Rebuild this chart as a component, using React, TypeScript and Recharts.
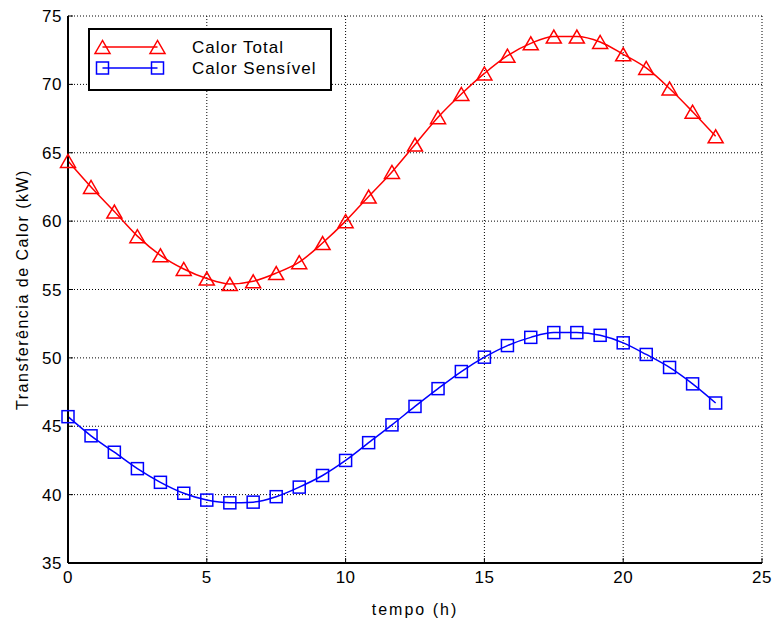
import React from "react";
import {
  ComposedChart,
  Line,
  XAxis,
  YAxis,
  CartesianGrid,
  Legend,
  Label,
} from "recharts";

// tempo (h) – one sample every 50 min
const horas = [
  0, 0.83, 1.67, 2.5, 3.33, 4.17, 5, 5.83, 6.67, 7.5, 8.33, 9.17, 10, 10.83, 11.67,
  12.5, 13.33, 14.17, 15, 15.83, 16.67, 17.5, 18.33, 19.17, 20, 20.83, 21.67, 22.5, 23.33,
];

// kW
const calorTotal = [
  64.4, 62.5, 60.7, 58.9, 57.5, 56.5, 55.8, 55.4, 55.6, 56.2, 57.0, 58.4, 60.0, 61.8, 63.6,
  65.6, 67.6, 69.3, 70.8, 72.1, 73.0, 73.5, 73.5, 73.1, 72.2, 71.2, 69.7, 68.0, 66.2,
];

const calorSensivel = [
  45.7, 44.3, 43.1, 41.9, 40.9, 40.1, 39.6, 39.4, 39.45, 39.85, 40.55, 41.4, 42.5, 43.8, 45.1,
  46.45, 47.75, 49.0, 50.05, 50.9, 51.5, 51.85, 51.85, 51.65, 51.1, 50.25, 49.3, 48.1, 46.7,
];

const xTicks = [0, 5, 10, 15, 20, 25];
const yTicks = [35, 40, 45, 50, 55, 60, 65, 70, 75];
const legendOrder = ["total", "sensivel"];

const FONT = '"Liberation Sans", Arial, Helvetica, sans-serif';
const RED = "#ff0000";
const BLUE = "#0000ff";

const data = horas.map((h, i) => ({
  h,
  total: calorTotal[i],
  sensivel: calorSensivel[i],
}));

const Triangle = ({ cx, cy, color }: any) => {
  if (cx == null || cy == null) return null;
  const w = 7.5;
  const hh = 6.5;
  return (
    <polygon
      points={`${cx},${cy - hh} ${cx - w},${cy + hh} ${cx + w},${cy + hh}`}
      fill="none"
      stroke={color}
      strokeWidth={1.5}
    />
  );
};

const Square = ({ cx, cy, color }: any) => {
  if (cx == null || cy == null) return null;
  const s = 6;
  return (
    <rect
      x={cx - s}
      y={cy - s}
      width={s * 2}
      height={s * 2}
      fill="none"
      stroke={color}
      strokeWidth={1.5}
    />
  );
};

const LegendBox = ({ payload }: any) => {
  const items = [...(payload || [])].sort(
    (a: any, b: any) => legendOrder.indexOf(a.dataKey) - legendOrder.indexOf(b.dataKey)
  );
  return (
    <svg width={244} height={63} style={{ display: "block" }}>
      <rect x={1} y={1} width={242} height={61} fill="#fff" stroke="#000" strokeWidth={2} />
      {items.map((it: any, i: number) => {
        const y = 19 + i * 21;
        const Mark = it.dataKey === "total" ? Triangle : Square;
        return (
          <g key={it.value}>
            <line x1={14.5} x2={69.5} y1={y} y2={y} stroke={it.color} strokeWidth={1.5} />
            <Mark cx={14.5} cy={y} color={it.color} />
            <Mark cx={69.5} cy={y} color={it.color} />
            <text
              x={104}
              y={y + 6}
              fontSize={17}
              letterSpacing={1}
              fontFamily={FONT}
              fill="#000"
            >
              {it.value}
            </text>
          </g>
        );
      })}
    </svg>
  );
};

const tickStyle = { fill: "#000", fontSize: 17, fontFamily: FONT, letterSpacing: 0.5 };
const noTick = () => <g />;

export default function App() {
  return (
    <div style={{ position: "absolute", left: 0, top: 0, background: "#fff" }}>
      <ComposedChart
        width={773}
        height={623}
        data={data}
        margin={{ top: 16, right: 11, bottom: 0, left: 0 }}
      >
        <CartesianGrid stroke="#000" strokeDasharray="1 2" strokeWidth={1} />
        <XAxis
          dataKey="h"
          type="number"
          domain={[0, 25]}
          ticks={xTicks}
          height={60}
          tickSize={-5}
          tickMargin={13}
          tick={tickStyle}
          axisLine={{ stroke: "#000", strokeWidth: 2 }}
          tickLine={{ stroke: "#000" }}
        >
          <Label
            content={({ viewBox }: any) => (
              <text
                x={viewBox.x + viewBox.width / 2}
                y={viewBox.y + 52}
                textAnchor="middle"
                fontSize={16}
                letterSpacing={2}
                fontFamily={FONT}
                fill="#000"
              >
                tempo (h)
              </text>
            )}
          />
        </XAxis>
        <XAxis
          xAxisId="top"
          dataKey="h"
          orientation="top"
          type="number"
          domain={[0, 25]}
          ticks={xTicks}
          height={0}
          tickSize={-5}
          tick={noTick}
          axisLine={{ stroke: "#000", strokeWidth: 2 }}
          tickLine={{ stroke: "#000" }}
        />
        <YAxis
          type="number"
          domain={[35, 75]}
          ticks={yTicks}
          width={68}
          tickSize={-5}
          tickMargin={11}
          tick={tickStyle}
          axisLine={{ stroke: "#000", strokeWidth: 2 }}
          tickLine={{ stroke: "#000" }}
        >
          <Label
            content={({ viewBox }: any) => {
              const x = 22;
              const y = viewBox.y + viewBox.height / 2;
              return (
                <text
                  x={x}
                  y={y}
                  transform={`rotate(-90 ${x} ${y})`}
                  textAnchor="middle"
                  dominantBaseline="central"
                  fontSize={16}
                  letterSpacing={1.5}
                  fontFamily={FONT}
                  fill="#000"
                >
                  Transferência de Calor (kW)
                </text>
              );
            }}
          />
        </YAxis>
        <YAxis
          yAxisId="right"
          orientation="right"
          type="number"
          domain={[35, 75]}
          ticks={yTicks}
          width={0}
          tickSize={-5}
          tick={noTick}
          axisLine={{ stroke: "#000", strokeWidth: 2 }}
          tickLine={{ stroke: "#000" }}
        />
        <Legend
          layout="vertical"
          align="center"
          verticalAlign="middle"
          wrapperStyle={{ left: 88, top: 28, width: 244, height: 63 }}
          content={<LegendBox />}
        />
        <Line
          type="monotone"
          dataKey="total"
          name="Calor Total"
          stroke={RED}
          strokeWidth={1.5}
          dot={(p: any) => <Triangle key={`t${p.index}`} cx={p.cx} cy={p.cy} color={RED} />}
          activeDot={false}
          isAnimationActive={false}
        />
        <Line
          type="monotone"
          dataKey="sensivel"
          name="Calor Sensível"
          stroke={BLUE}
          strokeWidth={1.5}
          dot={(p: any) => <Square key={`s${p.index}`} cx={p.cx} cy={p.cy} color={BLUE} />}
          activeDot={false}
          isAnimationActive={false}
        />
      </ComposedChart>
    </div>
  );
}
